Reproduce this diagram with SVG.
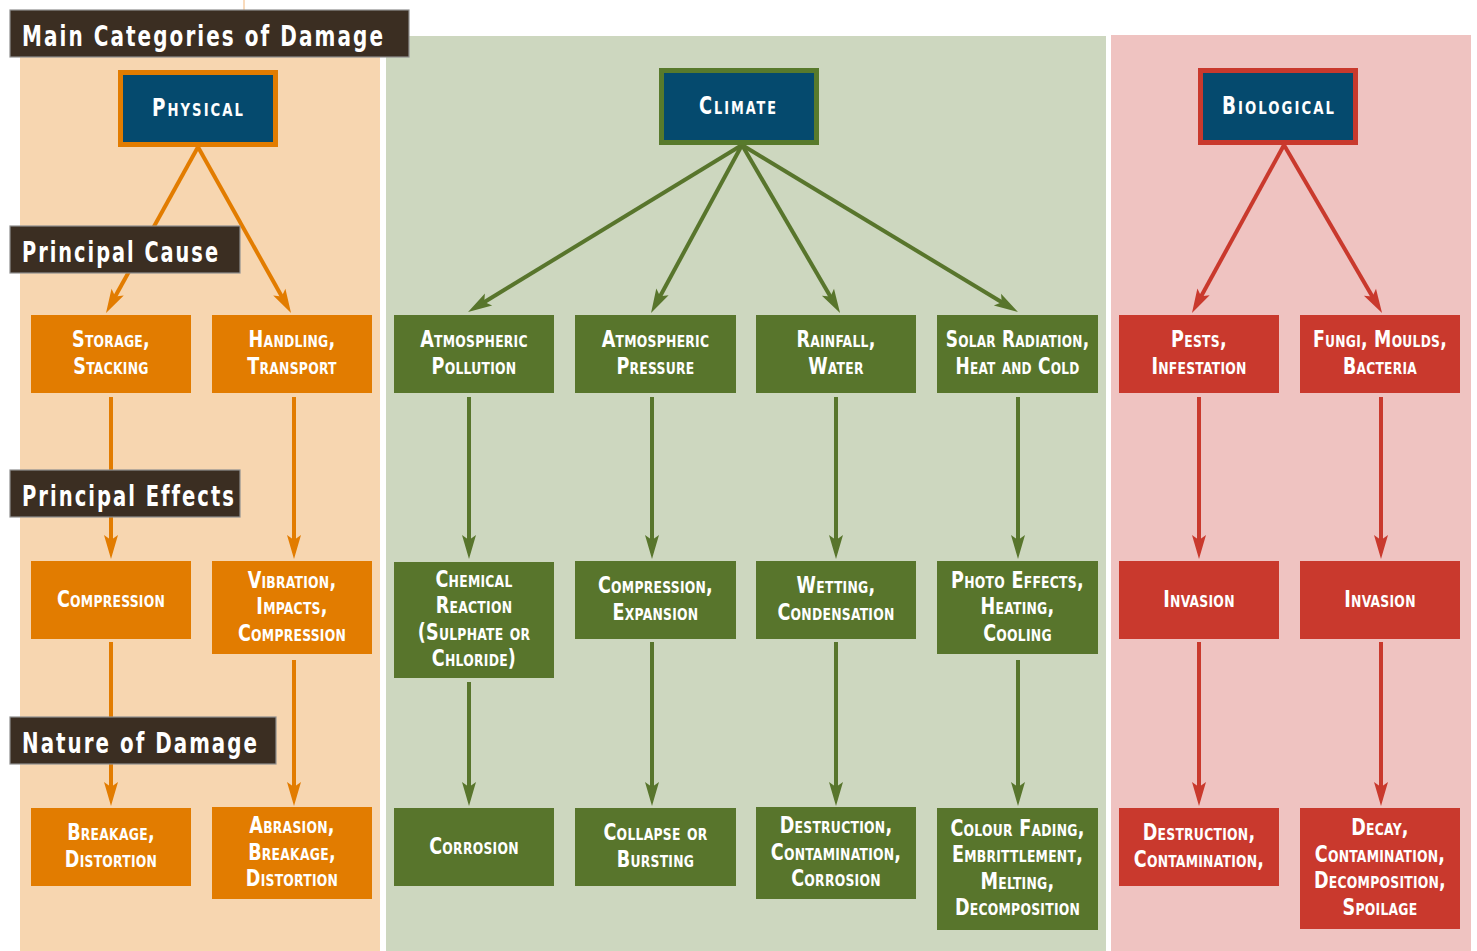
<svg xmlns="http://www.w3.org/2000/svg" width="1477" height="951" viewBox="0 0 1477 951">
<style>
.t{font-family:'DejaVu Sans Condensed','DejaVu Sans','Liberation Sans',sans-serif;font-weight:bold;fill:#ffffff}
.lt{font-size:28px;letter-spacing:2.6px}
.ht{font-size:25px;font-variant:small-caps;letter-spacing:2.5px;text-anchor:middle}
.bt{font-size:23px;font-variant:small-caps;letter-spacing:0.3px;text-anchor:middle}
.lbl{fill:#3b2e22;stroke:#8f8f8f;stroke-width:1.2}
.hd{fill:#054a6e;stroke-width:5}
.o{fill:#e27c00}.g{fill:#58752c}.r{fill:#c9392d}
.co{stroke:#e27c00;stroke-width:4;fill:none;marker-end:url(#ao)}
.cg{stroke:#58752c;stroke-width:4;fill:none;marker-end:url(#ag)}
.cr{stroke:#c9392d;stroke-width:4;fill:none;marker-end:url(#ar)}
</style>
<defs>
<marker id="ao" viewBox="-25 -8 26 16" refX="-14" refY="0" markerWidth="26" markerHeight="16" markerUnits="userSpaceOnUse" orient="auto"><path d="M0,0 L-24,-7 L-19,0 L-24,7 Z" fill="#e27c00"/></marker>
<marker id="ag" viewBox="-25 -8 26 16" refX="-14" refY="0" markerWidth="26" markerHeight="16" markerUnits="userSpaceOnUse" orient="auto"><path d="M0,0 L-24,-7 L-19,0 L-24,7 Z" fill="#58752c"/></marker>
<marker id="ar" viewBox="-25 -8 26 16" refX="-14" refY="0" markerWidth="26" markerHeight="16" markerUnits="userSpaceOnUse" orient="auto"><path d="M0,0 L-24,-7 L-19,0 L-24,7 Z" fill="#c9392d"/></marker>
</defs>
<rect width="1477" height="951" fill="#ffffff"/>
<line x1="244" y1="0" x2="244" y2="951" stroke="#f3b77a" stroke-width="1"/>
<g id="panels">
<rect x="20" y="36" width="360" height="915" fill="#f7d6b0"/>
<rect x="386" y="36" width="720" height="915" fill="#cdd7bf"/>
<rect x="1111" y="35" width="360" height="916" fill="#efc3c1"/>
</g>
<g id="connectors">
<line class="co" x1="198" y1="147" x2="112.8" y2="300.8"/>
<line class="co" x1="198" y1="147" x2="284.2" y2="300.8"/>
<line class="cg" x1="742" y1="145" x2="480" y2="304.7"/>
<line class="cg" x1="742" y1="145" x2="657.7" y2="300.7"/>
<line class="cg" x1="742" y1="145" x2="833" y2="300.9"/>
<line class="cg" x1="742" y1="145" x2="1006" y2="304.8"/>
<line class="cr" x1="1284" y1="145" x2="1198.7" y2="300.7"/>
<line class="cr" x1="1284" y1="145" x2="1375" y2="300.9"/>
<line class="co" x1="111" y1="397" x2="111" y2="545"/>
<line class="co" x1="294" y1="397" x2="294" y2="545"/>
<line class="co" x1="111" y1="642" x2="111" y2="792"/>
<line class="co" x1="294" y1="660" x2="294" y2="792"/>
<line class="cg" x1="469" y1="397" x2="469" y2="545"/>
<line class="cg" x1="652" y1="397" x2="652" y2="545"/>
<line class="cg" x1="836" y1="397" x2="836" y2="545"/>
<line class="cg" x1="1018" y1="397" x2="1018" y2="545"/>
<line class="cg" x1="469" y1="682" x2="469" y2="792"/>
<line class="cg" x1="652" y1="642" x2="652" y2="792"/>
<line class="cg" x1="836" y1="642" x2="836" y2="792"/>
<line class="cg" x1="1018" y1="660" x2="1018" y2="792"/>
<line class="cr" x1="1199" y1="397" x2="1199" y2="545"/>
<line class="cr" x1="1381" y1="397" x2="1381" y2="545"/>
<line class="cr" x1="1199" y1="642" x2="1199" y2="792"/>
<line class="cr" x1="1381" y1="642" x2="1381" y2="792"/>
</g>
<g id="title"><rect class="lbl" x="10" y="10" width="399" height="47"/><text class="t lt" x="22" y="46" textLength="363" lengthAdjust="spacingAndGlyphs">Main Categories of Damage</text></g>
<g id="physical"><rect class="hd" x="120.5" y="72.5" width="155" height="72" stroke="#e27c00"/><text class="t ht" x="198.5" y="115.5" textLength="93" lengthAdjust="spacingAndGlyphs">Physical</text></g>
<g id="climate"><rect class="hd" x="661.5" y="70.5" width="155" height="72" stroke="#587a2c"/><text class="t ht" x="738.5" y="113.5" textLength="79" lengthAdjust="spacingAndGlyphs">Climate</text></g>
<g id="biological"><rect class="hd" x="1200.5" y="70.5" width="155" height="72" stroke="#c9392d"/><text class="t ht" x="1279" y="113.5" textLength="114" lengthAdjust="spacingAndGlyphs">Biological</text></g>

<g id="storage"><rect class="o" x="31" y="315" width="160" height="78"/><text class="t bt" transform="translate(111 0) scale(0.85 1)" y="347.5"><tspan x="0">Storage,</tspan><tspan x="0" dy="26.5">Stacking</tspan></text></g>
<g id="handling"><rect class="o" x="212" y="315" width="160" height="78"/><text class="t bt" transform="translate(292 0) scale(0.85 1)" y="347.5"><tspan x="0">Handling,</tspan><tspan x="0" dy="26.5">Transport</tspan></text></g>
<g id="atm-pollution"><rect class="g" x="394" y="315" width="160" height="78"/><text class="t bt" transform="translate(474 0) scale(0.85 1)" y="347.5"><tspan x="0">Atmospheric</tspan><tspan x="0" dy="26.5">Pollution</tspan></text></g>
<g id="atm-pressure"><rect class="g" x="575" y="315" width="161" height="78"/><text class="t bt" transform="translate(655.5 0) scale(0.85 1)" y="347.5"><tspan x="0">Atmospheric</tspan><tspan x="0" dy="26.5">Pressure</tspan></text></g>
<g id="rainfall"><rect class="g" x="756" y="315" width="160" height="78"/><text class="t bt" transform="translate(836 0) scale(0.85 1)" y="347.5"><tspan x="0">Rainfall,</tspan><tspan x="0" dy="26.5">Water</tspan></text></g>
<g id="solar"><rect class="g" x="937" y="315" width="161" height="78"/><text class="t bt" transform="translate(1017.5 0) scale(0.82 1)" y="347.5"><tspan x="0">Solar Radiation,</tspan><tspan x="0" dy="26.5">Heat and Cold</tspan></text></g>
<g id="pests"><rect class="r" x="1119" y="315" width="160" height="78"/><text class="t bt" transform="translate(1199 0) scale(0.85 1)" y="347.5"><tspan x="0">Pests,</tspan><tspan x="0" dy="26.5">Infestation</tspan></text></g>
<g id="fungi"><rect class="r" x="1300" y="315" width="160" height="78"/><text class="t bt" transform="translate(1380 0) scale(0.84 1)" y="347.5"><tspan x="0">Fungi, Moulds,</tspan><tspan x="0" dy="26.5">Bacteria</tspan></text></g>

<g id="compression"><rect class="o" x="31" y="561" width="160" height="78"/><text class="t bt" transform="translate(111 0) scale(0.85 1)" x="0" y="607">Compression</text></g>
<g id="vibration"><rect class="o" x="212" y="561" width="160" height="93"/><text class="t bt" transform="translate(292 0) scale(0.85 1)" y="588"><tspan x="0">Vibration,</tspan><tspan x="0" dy="26.5">Impacts,</tspan><tspan x="0" dy="26.5">Compression</tspan></text></g>
<g id="chemical"><rect class="g" x="394" y="562" width="160" height="116"/><text class="t bt" transform="translate(474 0) scale(0.85 1)" y="587"><tspan x="0">Chemical</tspan><tspan x="0" dy="26.5">Reaction</tspan><tspan x="0" dy="26.5">(Sulphate or</tspan><tspan x="0" dy="26.5">Chloride)</tspan></text></g>
<g id="comp-exp"><rect class="g" x="575" y="561" width="161" height="78"/><text class="t bt" transform="translate(655.5 0) scale(0.85 1)" y="593.5"><tspan x="0">Compression,</tspan><tspan x="0" dy="26.5">Expansion</tspan></text></g>
<g id="wetting"><rect class="g" x="756" y="561" width="160" height="78"/><text class="t bt" transform="translate(836 0) scale(0.85 1)" y="593.5"><tspan x="0">Wetting,</tspan><tspan x="0" dy="26.5">Condensation</tspan></text></g>
<g id="photo"><rect class="g" x="937" y="561" width="161" height="93"/><text class="t bt" transform="translate(1017.5 0) scale(0.85 1)" y="588"><tspan x="0">Photo Effects,</tspan><tspan x="0" dy="26.5">Heating,</tspan><tspan x="0" dy="26.5">Cooling</tspan></text></g>
<g id="invasion1"><rect class="r" x="1119" y="561" width="160" height="78"/><text class="t bt" transform="translate(1199 0) scale(0.85 1)" x="0" y="607">Invasion</text></g>
<g id="invasion2"><rect class="r" x="1300" y="561" width="160" height="78"/><text class="t bt" transform="translate(1380 0) scale(0.85 1)" x="0" y="607">Invasion</text></g>

<g id="breakage"><rect class="o" x="31" y="808" width="160" height="78"/><text class="t bt" transform="translate(111 0) scale(0.85 1)" y="840.5"><tspan x="0">Breakage,</tspan><tspan x="0" dy="26.5">Distortion</tspan></text></g>
<g id="abrasion"><rect class="o" x="212" y="807" width="160" height="92"/><text class="t bt" transform="translate(292 0) scale(0.85 1)" y="833.5"><tspan x="0">Abrasion,</tspan><tspan x="0" dy="26.5">Breakage,</tspan><tspan x="0" dy="26.5">Distortion</tspan></text></g>
<g id="corrosion"><rect class="g" x="394" y="808" width="160" height="78"/><text class="t bt" transform="translate(474 0) scale(0.85 1)" x="0" y="854">Corrosion</text></g>
<g id="collapse"><rect class="g" x="575" y="808" width="161" height="78"/><text class="t bt" transform="translate(655.5 0) scale(0.85 1)" y="840.5"><tspan x="0">Collapse or</tspan><tspan x="0" dy="26.5">Bursting</tspan></text></g>
<g id="destruction-g"><rect class="g" x="756" y="807" width="160" height="92"/><text class="t bt" transform="translate(836 0) scale(0.85 1)" y="833.5"><tspan x="0">Destruction,</tspan><tspan x="0" dy="26.5">Contamination,</tspan><tspan x="0" dy="26.5">Corrosion</tspan></text></g>
<g id="colour"><rect class="g" x="937" y="808" width="161" height="122"/><text class="t bt" transform="translate(1017.5 0) scale(0.85 1)" y="836"><tspan x="0">Colour Fading,</tspan><tspan x="0" dy="26.5">Embrittlement,</tspan><tspan x="0" dy="26.5">Melting,</tspan><tspan x="0" dy="26.5">Decomposition</tspan></text></g>
<g id="destruction-r"><rect class="r" x="1119" y="808" width="160" height="78"/><text class="t bt" transform="translate(1199 0) scale(0.85 1)" y="840.5"><tspan x="0">Destruction,</tspan><tspan x="0" dy="26.5">Contamination,</tspan></text></g>
<g id="decay"><rect class="r" x="1300" y="808" width="160" height="121"/><text class="t bt" transform="translate(1380 0) scale(0.85 1)" y="835.5"><tspan x="0">Decay,</tspan><tspan x="0" dy="26.5">Contamination,</tspan><tspan x="0" dy="26.5">Decomposition,</tspan><tspan x="0" dy="26.5">Spoilage</tspan></text></g>

<g id="principal-cause"><rect class="lbl" x="10" y="226" width="230" height="47"/><text class="t lt" x="22" y="262" textLength="198" lengthAdjust="spacingAndGlyphs">Principal Cause</text></g>
<g id="principal-effects"><rect class="lbl" x="10" y="470" width="230" height="47"/><text class="t lt" x="22" y="506" textLength="214" lengthAdjust="spacingAndGlyphs">Principal Effects</text></g>
<g id="nature"><rect class="lbl" x="10" y="717" width="266" height="47"/><text class="t lt" x="22" y="753" textLength="237" lengthAdjust="spacingAndGlyphs">Nature of Damage</text></g>
</svg>
